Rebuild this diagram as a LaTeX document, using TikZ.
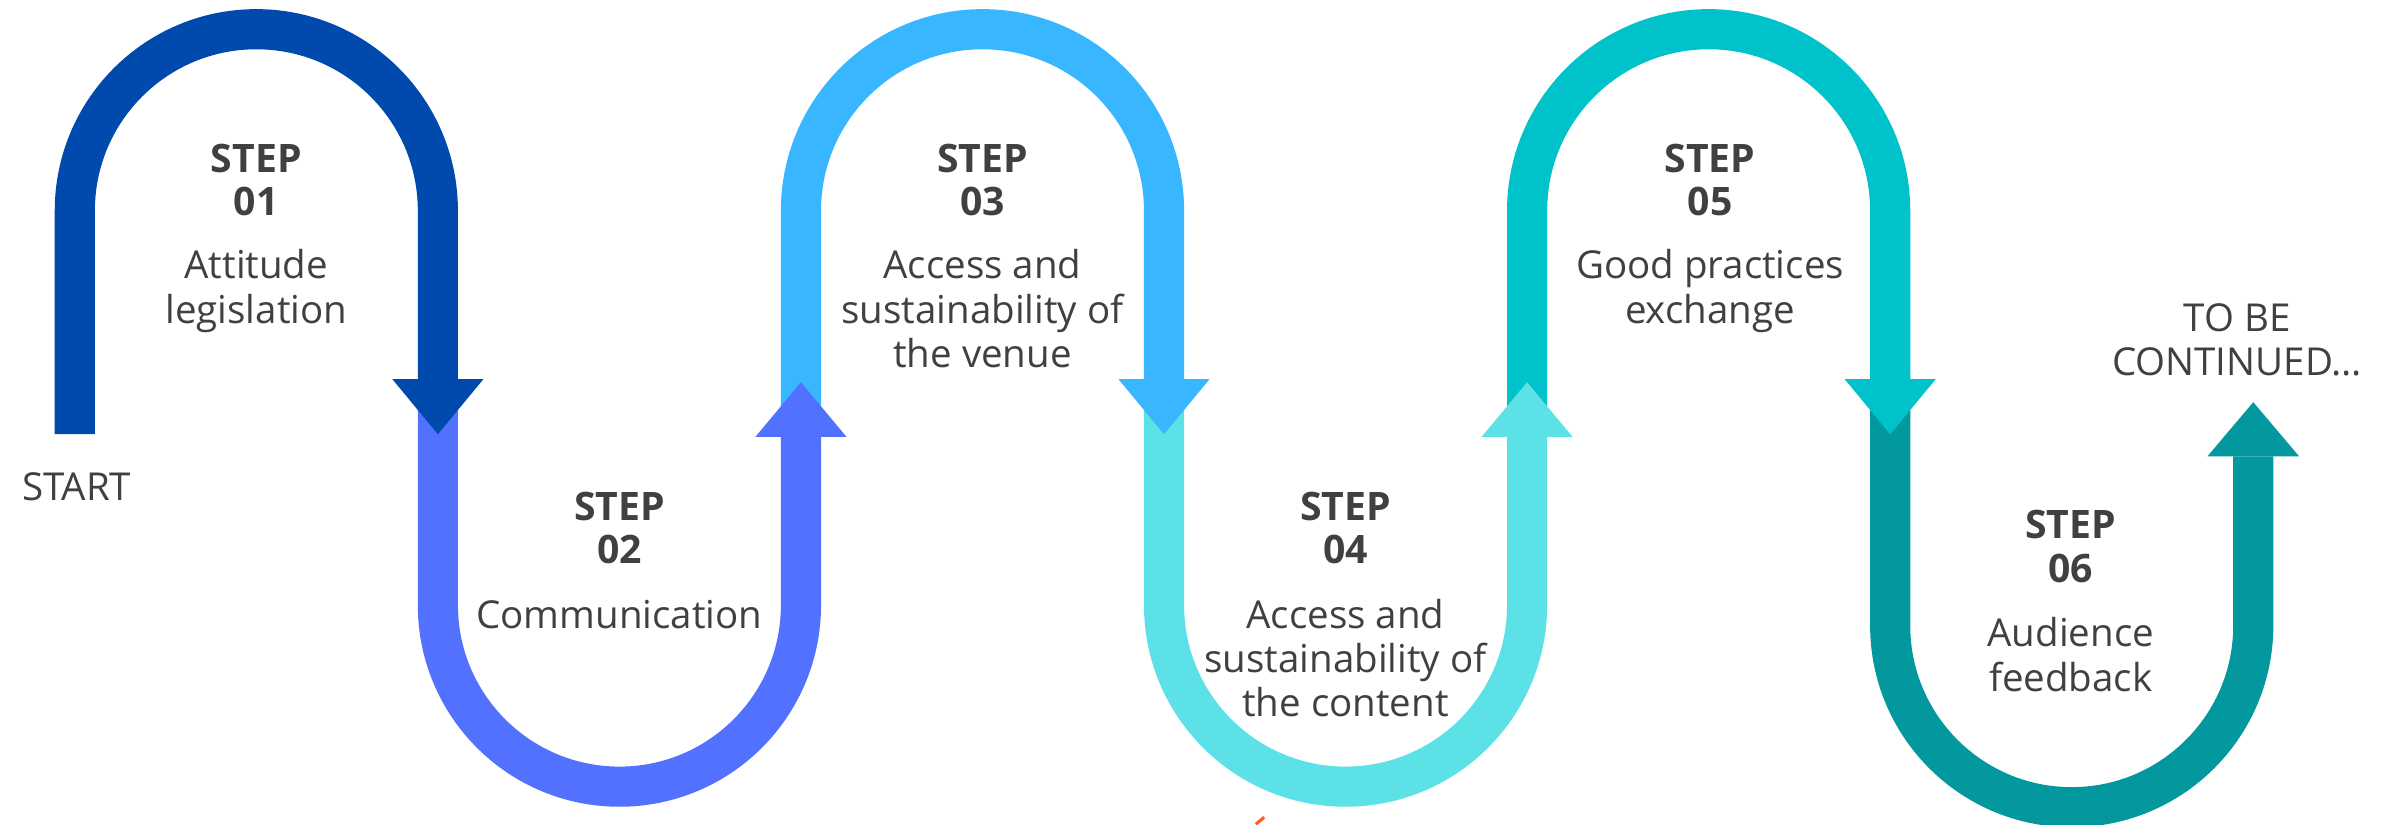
\documentclass[tikz,border=0pt]{standalone}
\usepackage{fontspec}
\setmainfont{Open Sans}
\definecolor{cA}{HTML}{004AAD}
\definecolor{cB}{HTML}{5271FF}
\definecolor{cC}{HTML}{38B6FF}
\definecolor{cD}{HTML}{5CE1E6}
\definecolor{cE}{HTML}{00C2CB}
\definecolor{cF}{HTML}{03989E}
\definecolor{txt}{HTML}{404040}
\definecolor{orangemk}{HTML}{FF5A1F}
\begin{document}
\begin{tikzpicture}[x=0.015cm,y=-0.015cm,
  band/.style={line width=0.396cm},
  steptitle/.style={font=\fontsize{11}{13}\selectfont\bfseries, text=txt, anchor=base, inner sep=0pt},
  stepdesc/.style={font=\fontsize{10.8}{13}\selectfont, text=txt, anchor=base, inner sep=0pt}]
\useasboundingbox (0,0) rectangle (1568,542);

% arrow 6
\draw[band,cF] (1243.2,260) -- (1243.2,411.5) arc[start angle=180,end angle=0,radius=119.4] -- (1482,300.2);
\fill[cF] (1451.8,300.2) -- (1512.2,300.2) -- (1482,264.5) -- cycle;
% arrow 5
\draw[band,cE] (1004.4,275) -- (1004.4,138.6) arc[start angle=180,end angle=360,radius=119.4] -- (1243.2,249.3);
\fill[cE] (1213.2,249.3) -- (1273.2,249.3) -- (1243.2,285.6) -- cycle;
% arrow 4
\draw[band,cD] (765.6,260) -- (765.6,398) arc[start angle=180,end angle=0,radius=119.4] -- (1004.4,287.4);
\fill[cD] (974.4,287.4) -- (1034.4,287.4) -- (1004.4,251.4) -- cycle;
% arrow 3
\draw[band,cC] (526.8,275) -- (526.8,138.6) arc[start angle=180,end angle=360,radius=119.4] -- (765.6,249.3);
\fill[cC] (735.6,249.3) -- (795.6,249.3) -- (765.6,285.6) -- cycle;
% arrow 2
\draw[band,cB] (288,260) -- (288,398) arc[start angle=180,end angle=0,radius=119.4] -- (526.8,287.4);
\fill[cB] (496.8,287.4) -- (556.8,287.4) -- (526.8,251.4) -- cycle;
% arrow 1
\draw[band,cA] (49.2,285.6) -- (49.2,138.6) arc[start angle=180,end angle=360,radius=119.4] -- (288,249.3);
\fill[cA] (258,249.3) -- (318,249.3) -- (288,285.6) -- cycle;

% texts
\node[stepdesc] (start) at (50.4,329.5) {START};
\node[stepdesc] (tobe) at (1471.4,217.9) {TO BE};
\node[stepdesc] (cont) at (1471.4,247.2) {CONTINUED...};

\node[steptitle] (s1) at (168.6,113.4) {STEP};
\node[steptitle] (n1) at (168.6,141.8) {01};
\node[stepdesc] (d1a) at (168.6,183.3) {Attitude};
\node[stepdesc] (d1b) at (168.6,212.7) {legislation};

\node[steptitle] (s2) at (407.4,342.3) {STEP};
\node[steptitle] (n2) at (407.4,370.7) {02};
\node[stepdesc] (d2a) at (407.4,413.2) {Communication};

\node[steptitle] (s3) at (646.2,113.4) {STEP};
\node[steptitle] (n3) at (646.2,141.8) {03};
\node[stepdesc] (d3a) at (646.2,183.3) {Access and};
\node[stepdesc] (d3b) at (646.2,212.7) {sustainability of};
\node[stepdesc] (d3c) at (646.2,242) {the venue};

\node[steptitle] (s4) at (885,342.3) {STEP};
\node[steptitle] (n4) at (885,370.7) {04};
\node[stepdesc] (d4a) at (885,413.2) {Access and};
\node[stepdesc] (d4b) at (885,442.6) {sustainability of};
\node[stepdesc] (d4c) at (885,471) {the content};

\node[steptitle] (s5) at (1124.7,113.4) {STEP};
\node[steptitle] (n5) at (1124.7,141.8) {05};
\node[stepdesc] (d5a) at (1124.7,183.3) {Good practices};
\node[stepdesc] (d5b) at (1124.7,212.7) {exchange};

\node[steptitle] (s6) at (1362,354.4) {STEP};
\node[steptitle] (n6) at (1362,383.1) {06};
\node[stepdesc] (d6a) at (1362,425.3) {Audience};
\node[stepdesc] (d6b) at (1362,454.7) {feedback};

% small orange mark at the bottom edge
\draw[orangemk,line width=0.03cm] (826,542) -- (831.5,537.5);
\end{tikzpicture}
\end{document}
